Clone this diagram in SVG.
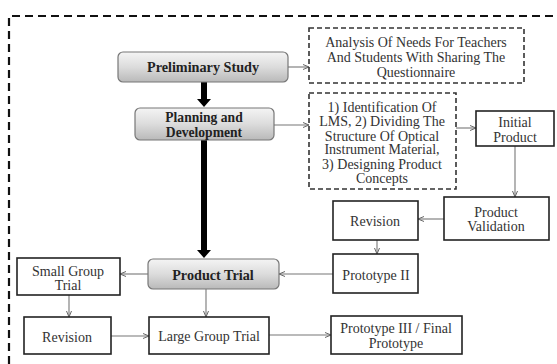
<svg xmlns="http://www.w3.org/2000/svg" width="557" height="364" viewBox="0 0 557 364">
<defs>
<linearGradient id="g" x1="0" y1="0" x2="0" y2="1">
<stop offset="0" stop-color="#f4f4f4"/>
<stop offset="0.5" stop-color="#dcdcdc"/>
<stop offset="1" stop-color="#b9b9b9"/>
</linearGradient>
<marker id="a" markerWidth="8" markerHeight="8" refX="7" refY="4" orient="auto" markerUnits="userSpaceOnUse">
<path d="M1,1.5 L7,4 L1,6.5" fill="none" stroke="#666" stroke-width="1"/>
</marker>
</defs>
<style>
text{font-family:"Liberation Serif","Times New Roman",serif;font-size:14px;fill:#333;text-anchor:middle}
.b{font-weight:bold;fill:#222;font-size:14.2px}
.s{font-size:13.6px}
.rb{fill:url(#g);stroke:#777;stroke-width:1.2}
.box{fill:#fff;stroke:#222;stroke-width:1.6}
.dash{fill:#fff;stroke:#333;stroke-width:1.6;stroke-dasharray:5,3}
.c{stroke:#777;stroke-width:1.1;fill:none;marker-end:url(#a)}
.thick{stroke:#000;stroke-width:6;fill:none}
</style>
<path d="M9,364 V16 H557" fill="none" stroke="#111" stroke-width="2.2" stroke-dasharray="8,5"/>
<g id="connectors">
<line class="thick" x1="204" y1="82" x2="204" y2="100"/>
<path d="M197,99 L211,99 L204,107 Z" fill="#000"/>
<line class="thick" x1="204" y1="140" x2="204" y2="251"/>
<path d="M197,250 L211,250 L204,258 Z" fill="#000"/>
<line class="c" x1="288" y1="67" x2="309" y2="67"/>
<line class="c" x1="274" y1="125" x2="309" y2="125"/>
<line class="c" x1="456" y1="128" x2="476" y2="128"/>
<line class="c" x1="515" y1="146" x2="515" y2="197"/>
<line class="c" x1="444" y1="219" x2="418" y2="219"/>
<line class="c" x1="377" y1="240" x2="377" y2="254"/>
<line class="c" x1="333" y1="274" x2="279" y2="274"/>
<line class="c" x1="148" y1="274" x2="120" y2="274"/>
<line class="c" x1="69" y1="295" x2="69" y2="317"/>
<line class="c" x1="206" y1="289" x2="206" y2="317"/>
<line class="c" x1="111" y1="336" x2="149" y2="336"/>
<line class="c" x1="269" y1="335" x2="331" y2="335"/>
</g>
<g id="preliminary">
<rect class="rb" x="118" y="52" width="170" height="30" rx="5"/>
<text class="b" x="203" y="71.5">Preliminary Study</text>
</g>
<g id="planning">
<rect class="rb" x="135" y="108" width="139" height="32" rx="5"/>
<text class="b s" x="204" y="121.5">Planning and</text>
<text class="b s" x="204" y="137">Development</text>
</g>
<g id="trial">
<rect class="rb" x="148" y="259" width="131" height="30" rx="5"/>
<text class="b" x="213" y="279.5">Product Trial</text>
</g>
<g id="analysis">
<rect class="dash" x="309" y="28" width="215" height="55"/>
<text x="416" y="46.5">Analysis Of Needs For Teachers</text>
<text x="416" y="61.5">And  Students With Sharing The</text>
<text x="416" y="76.5">Questionnaire</text>
</g>
<g id="steps">
<rect class="dash" x="309" y="93" width="147" height="96"/>
<text x="382" y="111.5">1) Identification Of</text>
<text x="382" y="125.5">LMS,  2) Dividing The</text>
<text x="382" y="140.5">Structure Of Optical</text>
<text x="382" y="154">Instrument Material,</text>
<text x="382" y="168.5">3) Designing Product</text>
<text x="382" y="182.5">Concepts</text>
</g>
<g id="initial">
<rect class="box" x="476" y="111" width="78" height="35"/>
<text x="515" y="126.5">Initial</text>
<text x="515" y="141.5">Product</text>
</g>
<g id="validation">
<rect class="box" x="444" y="197" width="105" height="43"/>
<text x="496" y="216.5">Product</text>
<text x="496" y="230.5">Validation</text>
</g>
<g id="revision1">
<rect class="box" x="333" y="201" width="85" height="39"/>
<text x="375" y="225.5">Revision</text>
</g>
<g id="proto2">
<rect class="box" x="333" y="254" width="85" height="39"/>
<text x="376" y="279.5">Prototype II</text>
</g>
<g id="small">
<rect class="box" x="17" y="258" width="103" height="37"/>
<text x="68" y="275.5">Small Group</text>
<text x="68" y="289.5">Trial</text>
</g>
<g id="revision2">
<rect class="box" x="24" y="317" width="87" height="37"/>
<text x="67" y="341.5">Revision</text>
</g>
<g id="large">
<rect class="box" x="149" y="317" width="120" height="37"/>
<text x="209" y="340.5">Large Group Trial</text>
</g>
<g id="final">
<rect class="box" x="331" y="316" width="131" height="38"/>
<text x="396" y="332.5">Prototype III / Final</text>
<text x="396" y="347.5">Prototype</text>
</g>
</svg>
